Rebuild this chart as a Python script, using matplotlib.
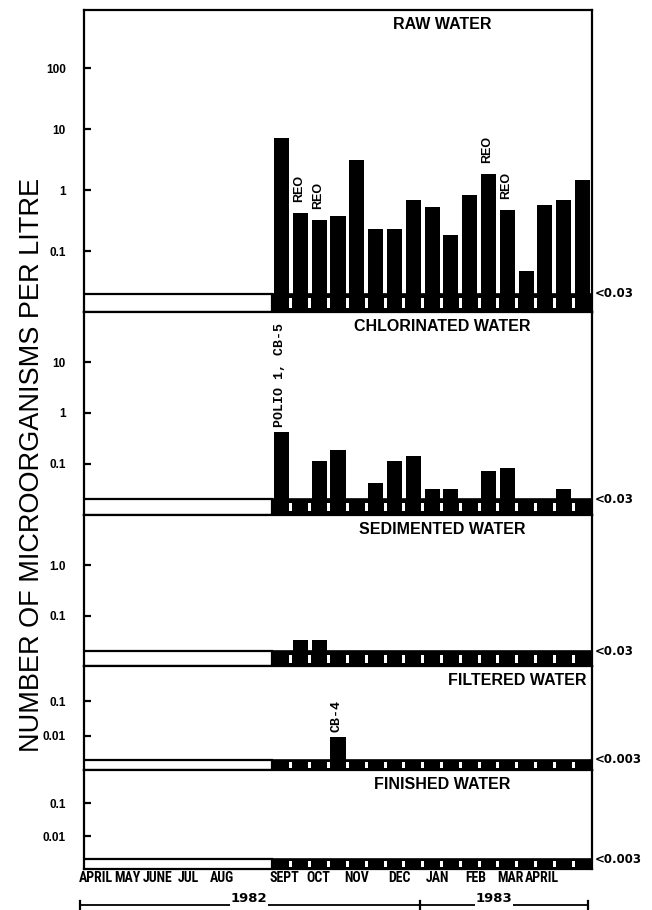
import numpy as np
import matplotlib
matplotlib.use("Agg")
import matplotlib.pyplot as plt
from matplotlib.patches import Rectangle
from matplotlib.lines import Line2D
from matplotlib.transforms import blended_transform_factory

# ---------------------------------------------------------------- data
month_labels = ["APRIL", "MAY", "JUNE", "JUL", "AUG", "SEPT", "OCT",
                "NOV", "DEC", "JAN", "FEB", "MAR", "APRIL"]
year_labels = ["1982", "1983"]

panel_titles = ["RAW WATER", "CHLORINATED WATER", "SEDIMENTED WATER",
                "FILTERED WATER", "FINISHED WATER"]
detection_labels = ["<0.03", "<0.03", "<0.03", "<0.003", "<0.003"]

# Twice-monthly samples, Sept 1982 - April 1983 (None = below detection limit)
raw_water = [7.2, 0.43, 0.32, 0.38, 3.1, 0.23, 0.23, 0.70, 0.53,
             0.185, 0.83, 1.85, 0.48, 0.048, 0.58, 0.69, 1.46]
chlorinated_water = [0.42, None, 0.115, 0.19, None, 0.043, 0.115, 0.146, 0.032,
                     0.032, None, 0.073, 0.082, None, None, 0.032, None]
sedimented_water = [None, 0.034, 0.034, None, None, None, None, None, None,
                    None, None, None, None, None, None, None, None]
filtered_water = [None, None, None, 0.009, None, None, None, None, None,
                  None, None, None, None, None, None, None, None]
finished_water = [None, None, None, None, None, None, None, None, None,
                  None, None, None, None, None, None, None, None]

raw_notes = {1: "REO", 2: "REO", 11: "REO", 12: "REO"}
chlorinated_notes = {0: "POLIO 1, CB-5"}
filtered_notes = {3: "CB-4"}
no_notes = {}

tick_values = [[0.1, 1, 10, 100], [0.1, 1, 10], [0.1, 1], [0.01, 0.1], [0.01, 0.1]]
tick_texts = [["0.1", "1", "10", "100"], ["0.1", "1", "10"], ["0.1", "1.0"],
              ["0.01", "0.1"], ["0.01", "0.1"]]

# -------------------------------------------------------------- layout
W, H = 652, 910
N_UNSAMPLED = 10            # half-month slots, April - August 1982
N_SLOTS = 27
y_ranges = [(0.01, 900), (0.01, 95), (0.01, 10), (0.001, 1), (0.001, 1)]
panel_heights = [303, 203, 152, 104, 99]
month_pos_px = [96, 127, 158, 188, 222, 284, 318, 357, 399, 437, 476, 510, 542]
title_x = [0.705, 0.705, 0.705, 0.990, 0.705]
title_ha = ["center", "center", "center", "right", "center"]

SANS = ["Liberation Sans", "DejaVu Sans"]
NARROW = ["Roboto Condensed", "Liberation Sans Narrow", "Liberation Sans"]
MONO = ["Liberation Mono", "DejaVu Sans Mono"]

ax_left, ax_right = 84, 592
fig = plt.figure(figsize=(W / 100, H / 100), dpi=100)
gs = fig.add_gridspec(5, 1, height_ratios=panel_heights, hspace=0,
                      left=ax_left / W, right=ax_right / W,
                      top=1 - 10 / H, bottom=1 - 869 / H)

series = [raw_water, chlorinated_water, sedimented_water, filtered_water, finished_water]
notes = [raw_notes, chlorinated_notes, no_notes, filtered_notes, no_notes]

axes = []
for k, values in enumerate(series):
    ax = fig.add_subplot(gs[k])
    axes.append(ax)
    lo, hi = y_ranges[k]
    floor = lo * 2           # top of the "below detection" band
    n = len(values)
    ax.set_yscale("log")
    ax.set_ylim(lo, hi)
    ax.set_xlim(0, N_SLOTS)

    # not-sampled band (open) and sampled band (solid)
    ax.add_patch(Rectangle((0, lo), N_UNSAMPLED, floor - lo, facecolor="white",
                           edgecolor="black", lw=1.6, zorder=3))
    ax.add_patch(Rectangle((N_UNSAMPLED, lo), n, floor - lo, facecolor="black",
                           edgecolor="black", lw=1.2, zorder=3))
    # white separators between samples inside the band
    for b in range(N_UNSAMPLED + 1, N_UNSAMPLED + n):
        ax.add_patch(Rectangle((b - 0.08, lo * 1.17), 0.16, floor / 1.17 - lo * 1.17,
                               facecolor="white", edgecolor="none", zorder=4))

    x = np.arange(n) + N_UNSAMPLED + 0.5
    det = [i for i, v in enumerate(values) if v is not None]
    if det:
        vals = np.array([values[i] for i in det])
        ax.bar(x[det], vals - lo, bottom=lo, width=0.8, color="black",
               edgecolor="black", lw=0, zorder=2)

    for i, txt in notes[k].items():
        fam = MONO if txt != "REO" else SANS
        fs = 9.5 if txt != "REO" else 9
        ax.annotate(txt, xy=(x[i], values[i]), xytext=(-1, 4 if txt != "REO" else 8),
                    textcoords="offset points", rotation=90, ha="center", va="bottom",
                    family=fam, fontsize=fs, fontweight="bold", zorder=5)

    ax.text(title_x[k], 1 - 7 / (panel_heights[k]), panel_titles[k],
            transform=ax.transAxes, ha=title_ha[k], va="top",
            family=SANS, fontsize=11.5, fontweight="bold")

    trans = blended_transform_factory(ax.transAxes, ax.transData)
    ax.text(1.006, floor, detection_labels[k], transform=trans, ha="left",
            va="center", family=["DejaVu Sans"], fontsize=8.5, fontweight="bold")

    ax.set_yticks(tick_values[k])
    ax.set_yticklabels(tick_texts[k], family=SANS, fontsize=8.5, fontweight="bold")
    ax.yaxis.set_minor_locator(matplotlib.ticker.NullLocator())
    ax.tick_params(axis="y", direction="in", length=5, width=1.6, pad=13)
    for s in ax.spines.values():
        s.set_linewidth(1.6)
    if k < 4:
        ax.set_xticks([])

# month labels along the bottom panel
bottom_ax = axes[-1]
slot_w = (ax_right - ax_left) / N_SLOTS
bottom_ax.set_xticks([(p - ax_left) / slot_w for p in month_pos_px])
bottom_ax.set_xticklabels(month_labels, family=NARROW, fontsize=10, fontweight="bold")
bottom_ax.tick_params(axis="x", length=0, pad=1.5)

# year bar
yb = 1 - 905 / H
xa, xm, xb = 80 / W, 420 / W, 588 / W
fig.add_artist(Line2D([xa, xb], [yb, yb], color="black", lw=1.3))
for xt in (xa, xm, xb):
    fig.add_artist(Line2D([xt, xt], [yb - 4 / H, yb + 4 / H], color="black", lw=1.6))
for txt, xc in zip(year_labels, (249, 494)):
    fig.text(xc / W, yb, txt, ha="center", va="bottom",
             family=["DejaVu Sans"], fontsize=9.5, fontweight="bold",
             bbox=dict(facecolor="white", edgecolor="none", pad=0.5))

fig.text(32 / W, 1 - 465 / H, "NUMBER OF MICROORGANISMS PER LITRE", rotation=90,
         ha="center", va="center", family=SANS, fontsize=19.5)

fig.savefig("out.png", dpi=100, facecolor="white")
